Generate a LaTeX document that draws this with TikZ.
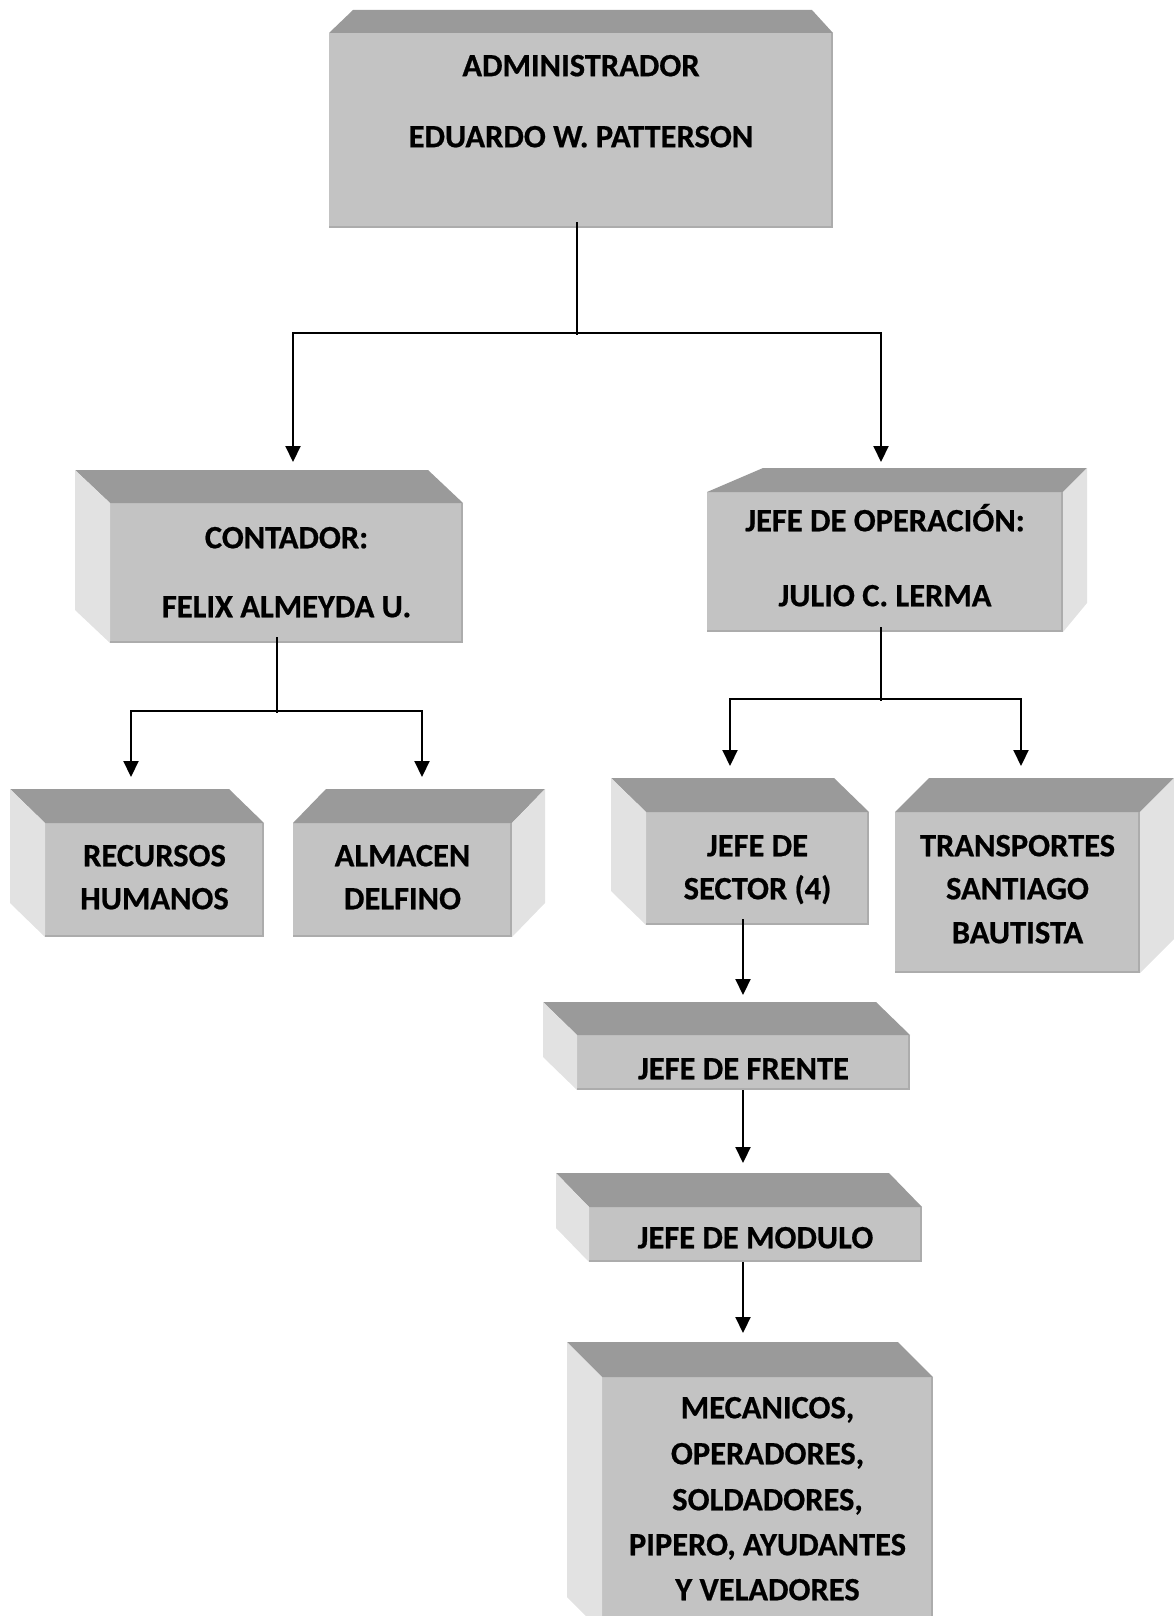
\documentclass[tikz,border=0pt]{standalone}
\usepackage{fontspec}
\setmainfont{Carlito}[BoldFeatures={FakeBold=0.6}]
\usetikzlibrary{arrows.meta,calc}
\definecolor{frontc}{HTML}{C3C3C3}
\definecolor{topc}{HTML}{9A9A9A}
\definecolor{sidec}{HTML}{E2E2E2}
\definecolor{edgec}{HTML}{ACACAC}
\tikzset{
  front/.style={fill=frontc, draw=none, inner sep=0pt, outer sep=0pt},
  txt/.style={font=\fontsize{32.5}{38}\bfseries\selectfont, inner sep=0pt, outer sep=0pt, text height=20.5pt, text depth=0pt, anchor=center},
  ln/.style={line width=2.1pt, black},
  arr/.style={ln, -{Triangle[width=15pt,length=16pt]}},
  edge/.style={edgec, line width=2pt}
}
\newcommand{\depthleft}[3]{%
  \fill[topc] (#1.north west) -- ++(#2,#3) -- ($(#1.north east)+(#2,#3)$) -- (#1.north east) -- cycle;
  \fill[sidec] (#1.north west) -- ++(#2,#3) -- ($(#1.south west)+(#2,#3)$) -- (#1.south west) -- cycle;
  \draw[edge] ($(#1.south west)+(0,-1)$) -- ($(#1.south east)+(-1,-1)$) -- ($(#1.north east)+(-1,0)$);}
\newcommand{\depthright}[3]{%
  \fill[topc] (#1.north west) -- ++(#2,#3) -- ($(#1.north east)+(#2,#3)$) -- (#1.north east) -- cycle;
  \fill[sidec] (#1.north east) -- ++(#2,#3) -- ($(#1.south east)+(#2,#3)$) -- (#1.south east) -- cycle;
  \draw[edge] ($(#1.south west)+(0,-1)$) -- ($(#1.south east)+(-1,-1)$) -- ($(#1.north east)+(-1,0)$);}
\begin{document}
\begin{tikzpicture}[x=1pt,y=-1pt]
\useasboundingbox (0,0) rectangle (1174,1616);
\clip (0,0) rectangle (1174,1616);

% ---- front faces ----
\node[front, minimum width=504pt, minimum height=195pt] (admin) at (581,130.5) {};
\node[front, minimum width=353pt, minimum height=140pt] (cont) at (286.5,573) {};
\node[front, minimum width=356pt, minimum height=140pt] (jop) at (885,562) {};
\node[front, minimum width=219pt, minimum height=114pt] (rec) at (154.5,880) {};
\node[front, minimum width=219pt, minimum height=114pt] (alm) at (402.5,880) {};
\node[front, minimum width=223pt, minimum height=113pt] (sec) at (757.5,868.5) {};
\node[front, minimum width=245pt, minimum height=161pt] (tra) at (1017.5,892.5) {};
\node[front, minimum width=333pt, minimum height=55pt] (fre) at (743.5,1062.5) {};
\node[front, minimum width=333pt, minimum height=55pt] (mod) at (755.5,1234.5) {};
\node[front, minimum width=331pt, minimum height=255pt] (mec) at (767.5,1504.5) {};

% ---- 3D faces ----
\fill[topc] (admin.north west) -- ++(24,-23) -- ($(admin.north east)+(-21,-23)$) -- (admin.north east) -- cycle;
\draw[edge] ($(admin.south west)+(0,-1)$) -- ($(admin.south east)+(-1,-1)$) -- ($(admin.north east)+(-1,0)$);
\fill[topc] (jop.north west) -- ++(56,-24) -- ($(jop.north east)+(24,-24)$) -- (jop.north east) -- cycle;
\fill[sidec] (jop.north east) -- ++(24,-24) -- ($(jop.south east)+(24,-29)$) -- (jop.south east) -- cycle;
\draw[edge] ($(jop.south west)+(0,-1)$) -- ($(jop.south east)+(-1,-1)$) -- ($(jop.north east)+(-1,0)$);
\depthleft{cont}{-35}{-33}
\depthleft{rec}{-35}{-34}
\depthright{alm}{33}{-34}
\depthleft{sec}{-35}{-34}
\depthright{tra}{34}{-34}
\depthleft{fre}{-34}{-33}
\depthleft{mod}{-33}{-34}
\depthleft{mec}{-35}{-35}

% ---- texts ----
\node[txt] (admin1) at (581,66) {ADMINISTRADOR};
\node[txt] (admin2) at (581,137) {EDUARDO W. PATTERSON};
\node[txt] (cont1) at (286.5,538) {CONTADOR:};
\node[txt] (cont2) at (286.5,607) {FELIX ALMEYDA U.};
\node[txt] (jop1) at (885,521) {JEFE DE OPERACIÓN:};
\node[txt] (jop2) at (885,596) {JULIO C. LERMA};
\node[txt] (rec1) at (154.5,856) {RECURSOS};
\node[txt] (rec2) at (154.5,899) {HUMANOS};
\node[txt] (alm1) at (402.5,856) {ALMACEN};
\node[txt] (alm2) at (402.5,899) {DELFINO};
\node[txt] (sec1) at (757.5,846) {JEFE DE};
\node[txt] (sec2) at (757.5,889) {SECTOR (4)};
\node[txt] (tra1) at (1017.5,846) {TRANSPORTES};
\node[txt] (tra2) at (1017.5,889) {SANTIAGO};
\node[txt] (tra3) at (1017.5,933) {BAUTISTA};
\node[txt] (fre1) at (743.5,1069) {JEFE DE FRENTE};
\node[txt] (mod1) at (755.5,1238) {JEFE DE MODULO};
\node[txt] (mec1) at (767.5,1408) {MECANICOS,};
\node[txt] (mec2) at (767.5,1454) {OPERADORES,};
\node[txt] (mec3) at (767.5,1500) {SOLDADORES,};
\node[txt] (mec4) at (767.5,1545) {PIPERO, AYUDANTES};
\node[txt] (mec5) at (767.5,1590) {Y VELADORES};

% ---- connectors ----
\coordinate (j1) at (577,333);
\coordinate (contin) at (293,462);
\coordinate (jopin) at (881,462);
\draw[ln] ([xshift=-4pt,yshift=6pt]admin.south) -- ([yshift=-2pt]j1);
\draw[arr] (j1) -| (contin);
\draw[arr] (j1) -| (jopin);

\coordinate (j2) at (277,711);
\coordinate (recin) at (131,777);
\coordinate (almin) at (422,777);
\draw[ln] ([xshift=-9.5pt,yshift=6pt]cont.south) -- ([yshift=-2pt]j2);
\draw[arr] (j2) -| (recin);
\draw[arr] (j2) -| (almin);

\coordinate (j3) at (881,699);
\coordinate (secin) at (730,766);
\coordinate (train) at (1021,766);
\draw[ln] ([xshift=-4pt,yshift=5pt]jop.south) -- ([yshift=-2pt]j3);
\draw[arr] (j3) -| (secin);
\draw[arr] (j3) -| (train);

\coordinate (frein) at (743,995);
\draw[arr] ([xshift=-14.5pt,yshift=6pt]sec.south) -- (frein);
\coordinate (modin) at (743,1163);
\draw[arr] ([xshift=-0.5pt]fre.south) -- (modin);
\coordinate (mecin) at (743,1333);
\draw[arr] ([xshift=-12.5pt]mod.south) -- (mecin);
\end{tikzpicture}
\end{document}
